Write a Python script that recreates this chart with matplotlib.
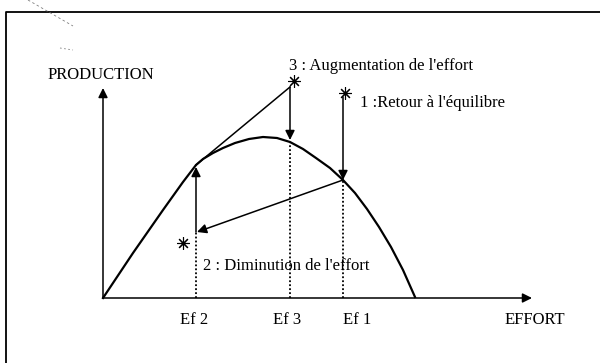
import matplotlib.pyplot as plt

plt.rcParams["font.family"] = ["Liberation Serif", "DejaVu Serif"]

# production curve (effort, production)
effort = [0, 30, 60, 80, 93, 100, 110, 120, 132, 146, 160, 174, 187, 200,
          213, 227, 240, 252, 264, 276, 288, 300, 312]
production = [0, 45, 88, 116, 133, 139, 145, 150, 155, 159, 161, 160, 156,
              149, 140, 130, 118, 105, 89, 71, 51, 28, 1]

# effort levels and their production on the curve
ef_names = ["Ef 2", "Ef 3", "Ef 1"]
ef_x = [93, 187, 240]
ef_y = [66, 156, 118]        # top of the dotted guides
ef_label_x = [77, 170, 240]

# adjustment path
tangent_x = [93, 187]
tangent_y = [133, 211]
stars_x = [242, 80, 191]
stars_y = [205, 55, 217]
star_names = ["1 :Retour à l'équilibre", "2 : Diminution de l'effort",
              "3 : Augmentation de l'effort"]
star_text_x = [257, 100, 186]
star_text_y = [195, 32, 232]

fig = plt.figure(figsize=(6, 3.63), dpi=100)
ax = fig.add_axes([0, 0, 1, 1])
ax.set_xlim(-103, 497)
ax.set_ylim(-65, 298)
ax.axis("off")

# frame of the scanned page
ax.plot([-97, -97, 497], [-65, 286, 286], color="black", lw=1.3)
ax.plot([-75, -30], [298, 272], color="gray", lw=0.6, ls=(0, (3, 3)))
ax.plot([-43, -30], [250, 248], color="gray", lw=0.6, ls=(0, (2, 3)))

# axes with arrows
arrow = dict(arrowstyle="-|>", color="black", lw=1.1, mutation_scale=14,
             shrinkA=0, shrinkB=0)
ax.annotate("", xy=(0, 210), xytext=(0, 0), arrowprops=arrow)
ax.annotate("", xy=(429, 0), xytext=(0, 0), arrowprops=arrow)
ax.text(-55, 223, "PRODUCTION", fontsize=12, va="center")
ax.text(402, -22, "EFFORT", fontsize=12, va="center")

ax.plot(effort, production, color="black", lw=1.6)

for x, y, name, lx in zip(ef_x, ef_y, ef_names, ef_label_x):
    ax.plot([x, x], [0, y], color="black", lw=1.3, ls=(0, (1, 1.2)))
    ax.text(lx, -22, name, fontsize=12, va="center")

ax.plot(tangent_x, tangent_y, color="black", lw=1.1)
ax.annotate("", xy=(187, 158), xytext=(187, 211), arrowprops=arrow)
ax.annotate("", xy=(240, 118), xytext=(240, 201), arrowprops=arrow)
ax.annotate("", xy=(94, 66), xytext=(240, 118), arrowprops=arrow)
ax.annotate("", xy=(93, 131), xytext=(93, 66), arrowprops=arrow)

ax.plot(stars_x, stars_y, ls="none", marker=(8, 2, 0), ms=9,
        mec="black", mew=0.8)
for x, y, name in zip(star_text_x, star_text_y, star_names):
    ax.text(x, y, name, fontsize=12, va="center")

fig.savefig("out.png", dpi=100)
